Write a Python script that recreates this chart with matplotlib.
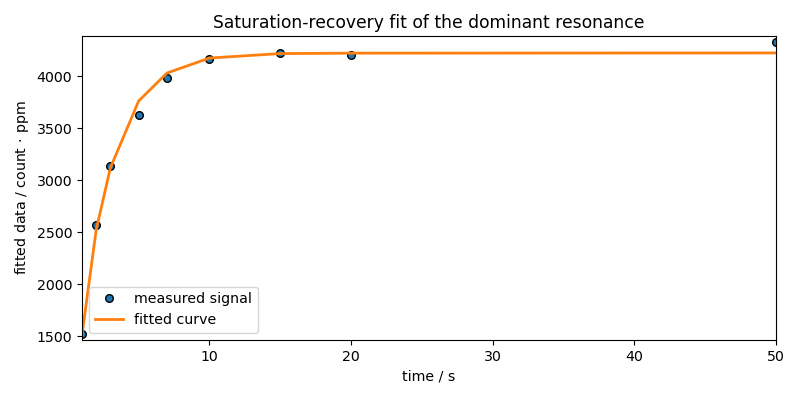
import numpy as np
import matplotlib.pyplot as plt

# delay times and measured / fitted amplitudes
t = np.array([1, 2, 3, 5, 7, 10, 15, 20, 50])
signal = np.array([1520, 2565, 3135, 3625, 3981, 4163, 4221, 4202, 4327])
fit = np.array([1510, 2519, 3115, 3760, 4029, 4173, 4216, 4220, 4222])

plt.rcParams['font.size'] = 10.2

fig = plt.figure(figsize=(8, 4), dpi=100)
plt.subplots_adjust(left=0.1025, right=0.97, top=0.91, bottom=0.15)
ax = fig.add_subplot(111)

ax.plot(t, signal, 'o', color='C0', markeredgecolor='k', markersize=5.5, label='measured signal')
ax.plot(t, fit, '-', color='C1', linewidth=2, label='fitted curve')

ax.set_xlim(1, 50)
ax.set_ylim(1462, 4385)
ax.set_xlabel('time / s')
ax.set_ylabel(r'fitted data / count$\,\cdot\,$ppm')
ax.set_title('Saturation-recovery fit of the dominant resonance', fontsize=12.3)
ax.legend(loc='lower left')

plt.savefig('out.png')
